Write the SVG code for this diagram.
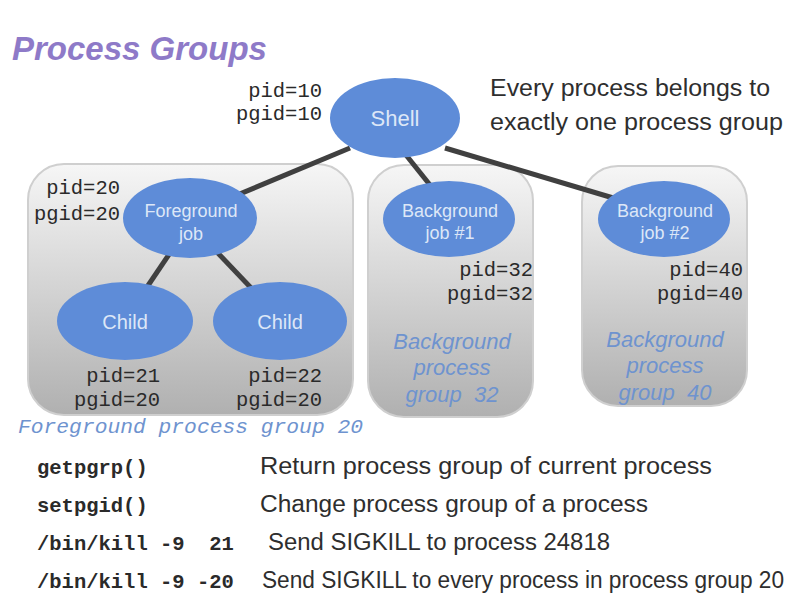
<svg xmlns="http://www.w3.org/2000/svg" width="792" height="612" viewBox="0 0 792 612">
<defs>
<linearGradient id="boxg" x1="0" y1="0" x2="0" y2="1">
<stop offset="0" stop-color="#f6f6f6"/>
<stop offset="1" stop-color="#b0b0b0"/>
</linearGradient>
<style>
.box{fill:url(#boxg);stroke:#cfcfcf;stroke-width:2}
.node{fill:#5e8cd8}
.ntxt{font-family:"Liberation Sans",Arial,sans-serif;fill:#dde7f7;text-anchor:middle}
.mono{font-family:"Liberation Mono","Courier New",monospace;font-size:20.5px;fill:#2a2a2a}
.lbl{text-anchor:end}
.body{font-family:"Liberation Sans",Arial,sans-serif;font-size:23px;fill:#2e2e2e}
.grp{font-family:"Liberation Sans",Arial,sans-serif;font-size:22px;font-style:italic;fill:#6e93cf;text-anchor:middle}
.conn{stroke:#404040;stroke-width:5;stroke-linecap:butt;fill:none}
</style>
</defs>
<rect width="792" height="612" fill="#ffffff"/>
<text x="12" y="60" font-family="Liberation Sans,Arial,sans-serif" font-size="33" font-style="italic" font-weight="bold" fill="#8e7ac8">Process Groups</text>

<g id="fg-group">
<rect class="box" x="28" y="164" width="325" height="251" rx="36"/>
<text class="mono" x="18" y="433" font-style="italic" style="fill:#6e93cf" textLength="345" lengthAdjust="spacingAndGlyphs">Foreground process group 20</text>
</g>
<g id="bg-group-32">
<rect class="box" x="368" y="165" width="165" height="252" rx="36"/>
<text class="grp" x="452" y="349">Background</text>
<text class="grp" x="452" y="375">process</text>
<text class="grp" x="452" y="402" xml:space="preserve">group  32</text>
</g>
<g id="bg-group-40">
<rect class="box" x="582" y="166" width="165" height="240" rx="36"/>
<text class="grp" x="665" y="347">Background</text>
<text class="grp" x="665" y="373">process</text>
<text class="grp" x="665" y="400" xml:space="preserve">group  40</text>
</g>

<g id="connectors">
<line class="conn" x1="350" y1="148" x2="230" y2="198"/>
<line class="conn" x1="402" y1="150" x2="434" y2="190"/>
<line class="conn" x1="445" y1="148" x2="620" y2="200"/>
<line class="conn" x1="172" y1="250" x2="145" y2="290"/>
<line class="conn" x1="215" y1="250" x2="255" y2="292"/>
</g>

<g id="shell">
<ellipse class="node" cx="395" cy="118" rx="65" ry="40"/>
<text class="ntxt" x="395" y="126" font-size="22">Shell</text>
<text class="mono lbl" x="322" y="97">pid=10</text>
<text class="mono lbl" x="322" y="120">pgid=10</text>
</g>

<g id="foreground-job">
<ellipse class="node" cx="190" cy="218" rx="67" ry="40"/>
<text class="ntxt" x="191" y="217" font-size="18">Foreground</text>
<text class="ntxt" x="191" y="240" font-size="18">job</text>
<text class="mono lbl" x="120" y="194">pid=20</text>
<text class="mono lbl" x="120" y="220">pgid=20</text>
</g>

<g id="child-21">
<ellipse class="node" cx="125" cy="321" rx="68" ry="39"/>
<text class="ntxt" x="125" y="329" font-size="20">Child</text>
<text class="mono lbl" x="160" y="382">pid=21</text>
<text class="mono lbl" x="160" y="406">pgid=20</text>
</g>

<g id="child-22">
<ellipse class="node" cx="280" cy="321" rx="67" ry="39"/>
<text class="ntxt" x="280" y="329" font-size="20">Child</text>
<text class="mono lbl" x="322" y="382">pid=22</text>
<text class="mono lbl" x="322" y="406">pgid=20</text>
</g>

<g id="background-job-1">
<ellipse class="node" cx="449" cy="219" rx="66" ry="38"/>
<text class="ntxt" x="450" y="217" font-size="18">Background</text>
<text class="ntxt" x="450" y="239" font-size="18">job #1</text>
<text class="mono lbl" x="533" y="276">pid=32</text>
<text class="mono lbl" x="533" y="300">pgid=32</text>
</g>

<g id="background-job-2">
<ellipse class="node" cx="664" cy="219" rx="66" ry="38"/>
<text class="ntxt" x="665" y="217" font-size="18">Background</text>
<text class="ntxt" x="665" y="239" font-size="18">job #2</text>
<text class="mono lbl" x="743" y="276">pid=40</text>
<text class="mono lbl" x="743" y="300">pgid=40</text>
</g>

<g id="note">
<text class="body" x="490" y="96" textLength="280" lengthAdjust="spacingAndGlyphs">Every process belongs to</text>
<text class="body" x="490" y="130" textLength="293" lengthAdjust="spacingAndGlyphs">exactly one process group</text>
</g>

<g id="commands">
<text class="mono" x="37" y="474" font-weight="bold">getpgrp()</text>
<text class="mono" x="37" y="512" font-weight="bold">setpgid()</text>
<text class="mono" x="37" y="550" font-weight="bold" xml:space="preserve">/bin/kill -9  21</text>
<text class="mono" x="37" y="588" font-weight="bold">/bin/kill -9 -20</text>
<text class="body" x="260" y="474" textLength="452" lengthAdjust="spacingAndGlyphs">Return process group of current process</text>
<text class="body" x="260" y="512" textLength="388" lengthAdjust="spacingAndGlyphs">Change process group of a process</text>
<text class="body" x="268" y="550" textLength="342" lengthAdjust="spacingAndGlyphs">Send SIGKILL to process 24818</text>
<text class="body" x="262" y="588" textLength="522" lengthAdjust="spacingAndGlyphs">Send SIGKILL to every process in process group 20</text>
</g>
</svg>
